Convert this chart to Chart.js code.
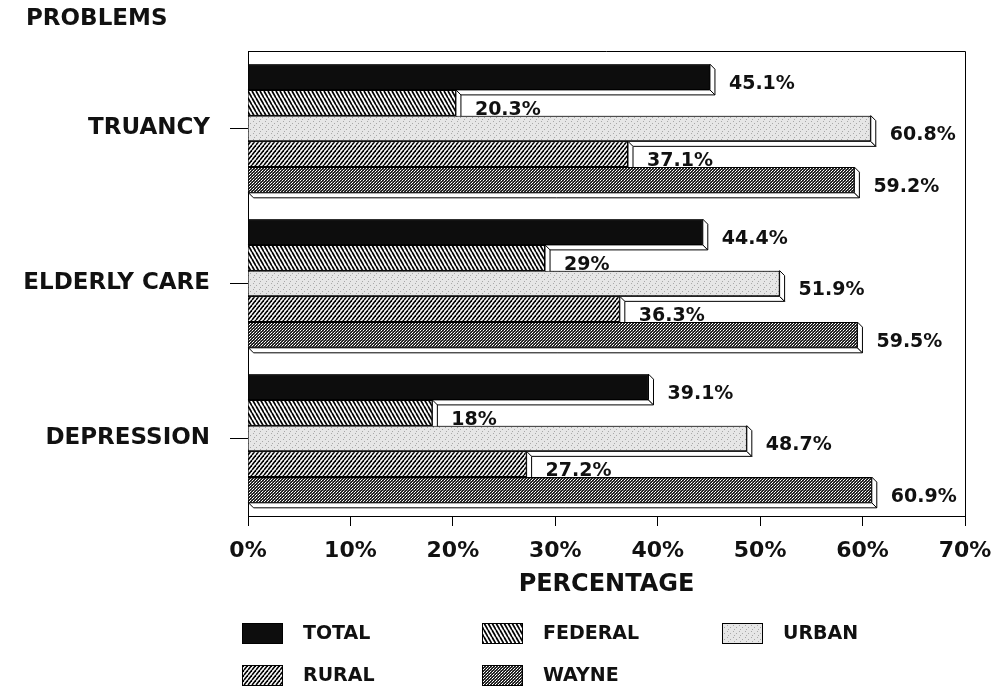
<!DOCTYPE html>
<html>
<head>
<meta charset="utf-8">
<script src="https://cdn.jsdelivr.net/npm/chart.js@4.4.1/dist/chart.umd.min.js"></script>
<style>
  html, body { margin: 0; padding: 0; background: #fff; }
</style>
</head>
<body>
<canvas id="chart" width="998" height="686"></canvas>
<script>
// data
const categories = ['TRUANCY', 'ELDERLY CARE', 'DEPRESSION'];
const seriesNames = ['TOTAL', 'FEDERAL', 'URBAN', 'RURAL', 'WAYNE'];
const total   = [45.1, 44.4, 39.1];
const federal = [20.3, 29, 18];
const urban   = [60.8, 51.9, 48.7];
const rural   = [37.1, 36.3, 27.2];
const wayne   = [59.2, 59.5, 60.9];
const xTickStep = 10;
const xMax = 70;

const FONT = '"DejaVu Sans", "Liberation Sans", sans-serif';
const DEPTH = 5;

// fill patterns (hatches / stipple like the old printout)
function makePattern(w, h, paint) {
  const c = document.createElement('canvas');
  c.width = w; c.height = h;
  const g = c.getContext('2d');
  paint(g, w, h);
  return g.createPattern(c, 'repeat');
}

const totalFill = '#0d0d0d';
const federalFill = makePattern(4, 7, (g, w, h) => {
  g.fillStyle = '#fff'; g.fillRect(0, 0, w, h);
  g.strokeStyle = '#000'; g.lineWidth = 1.7;
  for (let k = -2; k <= 2; k++) {
    g.beginPath(); g.moveTo(k * w, 0); g.lineTo(k * w + w, h); g.stroke();
  }
});
const urbanFill = makePattern(6, 6, (g, w, h) => {
  g.fillStyle = '#e6e6e6'; g.fillRect(0, 0, w, h);
  g.fillStyle = '#a8a8a8';
  g.fillRect(1, 1, 1, 1); g.fillRect(4, 3, 1, 1); g.fillRect(2, 5, 1, 1);
});
const ruralFill = makePattern(4, 5, (g, w, h) => {
  g.fillStyle = '#fff'; g.fillRect(0, 0, w, h);
  g.strokeStyle = '#000'; g.lineWidth = 1.6;
  for (let k = -2; k <= 2; k++) {
    g.beginPath(); g.moveTo(k * w, h); g.lineTo(k * w + w, 0); g.stroke();
  }
});
const wayneFill = makePattern(3, 3, (g) => {
  g.fillStyle = '#222'; g.fillRect(0, 0, 3, 3);
  g.fillStyle = '#fff'; g.fillRect(0, 0, 1, 1); g.fillRect(1, 2, 1, 1);
  g.fillStyle = '#999'; g.fillRect(2, 1, 1, 1);
});

const values = [total, federal, urban, rural, wayne];
const fills = [totalFill, federalFill, urbanFill, ruralFill, wayneFill];

// bars are redrawn top to bottom so that each one covers the 3d faces
// and the value label of the bar above it, as in the printout
const bar3d = {
  id: 'bar3d',
  afterDatasetsDraw(chart) {
    const ctx = chart.ctx;
    ctx.save();
    chart.data.datasets.forEach((ds, i) => {
      chart.getDatasetMeta(i).data.forEach((bar, j) => {
        bar.draw(ctx);
        const p = bar.getProps(['x', 'y', 'base', 'height'], true);
        const top = p.y - p.height / 2;
        const bottom = p.y + p.height / 2;
        const x = p.x, left = p.base;
        ctx.lineWidth = 1;
        ctx.strokeStyle = '#000';
        ctx.fillStyle = '#fff';
        ctx.beginPath();
        ctx.moveTo(left, bottom); ctx.lineTo(x, bottom);
        ctx.lineTo(x + DEPTH, bottom + DEPTH); ctx.lineTo(left + DEPTH, bottom + DEPTH);
        ctx.closePath(); ctx.fill(); ctx.stroke();
        ctx.beginPath();
        ctx.moveTo(x, top); ctx.lineTo(x + DEPTH, top + DEPTH);
        ctx.lineTo(x + DEPTH, bottom + DEPTH); ctx.lineTo(x, bottom);
        ctx.closePath(); ctx.fill(); ctx.stroke();

        ctx.fillStyle = '#111';
        ctx.font = 'bold 19px ' + FONT;
        ctx.textAlign = 'left';
        ctx.textBaseline = 'middle';
        ctx.fillText(ds.data[j] + '%', x + 19, p.y + 7);
      });
    });
    ctx.restore();
  }
};

const frameAndLegend = {
  id: 'frameAndLegend',
  beforeDatasetsDraw(chart) {
    const { ctx, chartArea: a } = chart;
    ctx.save();
    ctx.strokeStyle = '#000';
    ctx.lineWidth = 1;
    ctx.beginPath();
    ctx.moveTo(a.left, a.top + 0.5); ctx.lineTo(a.right + 0.5, a.top + 0.5);
    ctx.lineTo(a.right + 0.5, a.bottom);
    ctx.stroke();
    ctx.restore();
  },
  afterDraw(chart) {
    const { ctx, chartArea: a } = chart;
    ctx.save();
    ctx.fillStyle = '#111';
    ctx.font = 'bold 23px ' + FONT;
    ctx.textAlign = 'left';
    ctx.textBaseline = 'middle';
    ctx.fillText('PROBLEMS', 26, 19);

    // legend, 3 columns x 2 rows
    ctx.font = 'bold 19px ' + FONT;
    chart.data.datasets.forEach((ds, i) => {
      const col = i % 3, row = Math.floor(i / 3);
      const bx = a.left - 6 + col * 240;
      const cy = a.bottom + 117 + row * 42;
      ctx.fillStyle = ds.backgroundColor;
      ctx.fillRect(bx, cy - 10, 41, 21);
      ctx.strokeStyle = '#000';
      ctx.lineWidth = 1;
      ctx.strokeRect(bx + 0.5, cy - 9.5, 40, 20);
      ctx.fillStyle = '#111';
      ctx.fillText(ds.label, bx + 61, cy + 1);
    });
    ctx.restore();
  }
};

new Chart(document.getElementById('chart'), {
  type: 'bar',
  data: {
    labels: categories,
    datasets: seriesNames.map((name, i) => ({
      label: name,
      data: values[i],
      backgroundColor: fills[i],
      borderColor: '#000',
      borderWidth: 1,
      categoryPercentage: 0.83,
      barPercentage: 1
    }))
  },
  options: {
    indexAxis: 'y',
    responsive: false,
    animation: false,
    devicePixelRatio: 1,
    layout: { padding: { left: 10, top: 51, right: 33, bottom: 87 } },
    scales: {
      x: {
        type: 'linear',
        min: 0,
        max: xMax,
        afterFit: s => { s.height = 83; s.paddingRight = 0; s.paddingLeft = 0; },
        ticks: {
          stepSize: xTickStep,
          padding: 12,
          color: '#111',
          font: { family: FONT, size: 22, weight: 'bold' },
          callback: v => v + '%'
        },
        grid: { drawOnChartArea: false, tickLength: 10, color: '#000' },
        border: { display: true, color: '#000', width: 1 },
        title: {
          display: true,
          text: 'PERCENTAGE',
          color: '#111',
          padding: 0,
          font: { family: FONT, size: 24, weight: 'bold' }
        }
      },
      y: {
        afterFit: s => { s.width = 238; },
        ticks: {
          padding: 20,
          color: '#111',
          font: { family: FONT, size: 23, weight: 'bold' }
        },
        grid: { offset: false, drawOnChartArea: false, tickLength: 18, color: '#000' },
        border: { display: true, color: '#000', width: 1 }
      }
    },
    plugins: {
      legend: { display: false },
      tooltip: { enabled: false }
    }
  },
  plugins: [bar3d, frameAndLegend]
});
</script>
</body>
</html>
